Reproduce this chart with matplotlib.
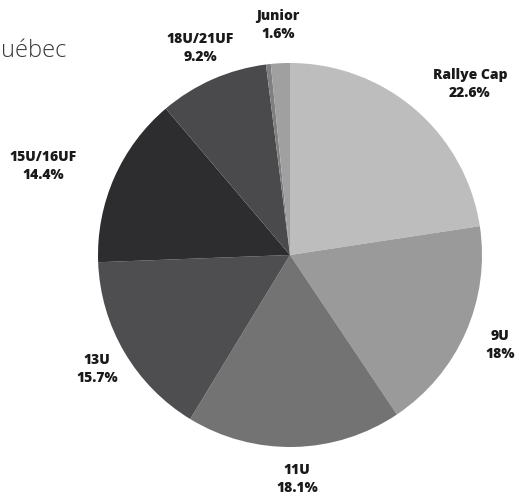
import matplotlib
matplotlib.use("Agg")
import matplotlib.pyplot as plt

W, H = 521, 496

categories = ["Rallye Cap", "9U", "11U", "13U", "15U/16UF", "18U/21UF", "", "Junior"]
values = [22.6, 18.0, 18.1, 15.7, 14.4, 9.2, 0.4, 1.6]
pct_labels = ["22.6%", "18%", "18.1%", "15.7%", "14.4%", "9.2%", "", "1.6%"]
colors = ["#bdbdbd", "#9a9a9a", "#737373", "#4e4d4f", "#2d2c2e", "#4a494b", "#7f7f7f", "#a0a0a0"]

# label anchor positions in pixel coords (x, y from top)
label_pos = [(470, 84), (500, 345), (297, 479), (97, 369), (43, 166), (200, 48), None, (278, 25)]

fig = plt.figure(figsize=(W / 100, H / 100), dpi=100)
ax = fig.add_axes([0, 0, 1, 1])

cx, cy, r = 290, 255, 192
ax.pie(values, colors=colors, startangle=90, counterclock=False,
       center=(cx, H - cy), radius=r, frame=True,
       wedgeprops=dict(linewidth=0))
ax.set_xlim(0, W)
ax.set_ylim(0, H)
ax.set_aspect("equal")
ax.axis("off")

for cat, pct, pos in zip(categories, pct_labels, label_pos):
    if pos is None:
        continue
    ax.text(pos[0], H - pos[1], f"{cat}\n{pct}", ha="center", va="center",
            fontsize=10, fontweight="heavy", family=["Open Sans", "DejaVu Sans"],
            color="#1a1a1a", linespacing=1.45)

ax.text(1, H - 51, "uébec", ha="left", va="center", fontsize=17,
        fontweight="light", family=["Open Sans", "DejaVu Sans"], color="#3a3a3a")

fig.savefig("out.png", dpi=100)
